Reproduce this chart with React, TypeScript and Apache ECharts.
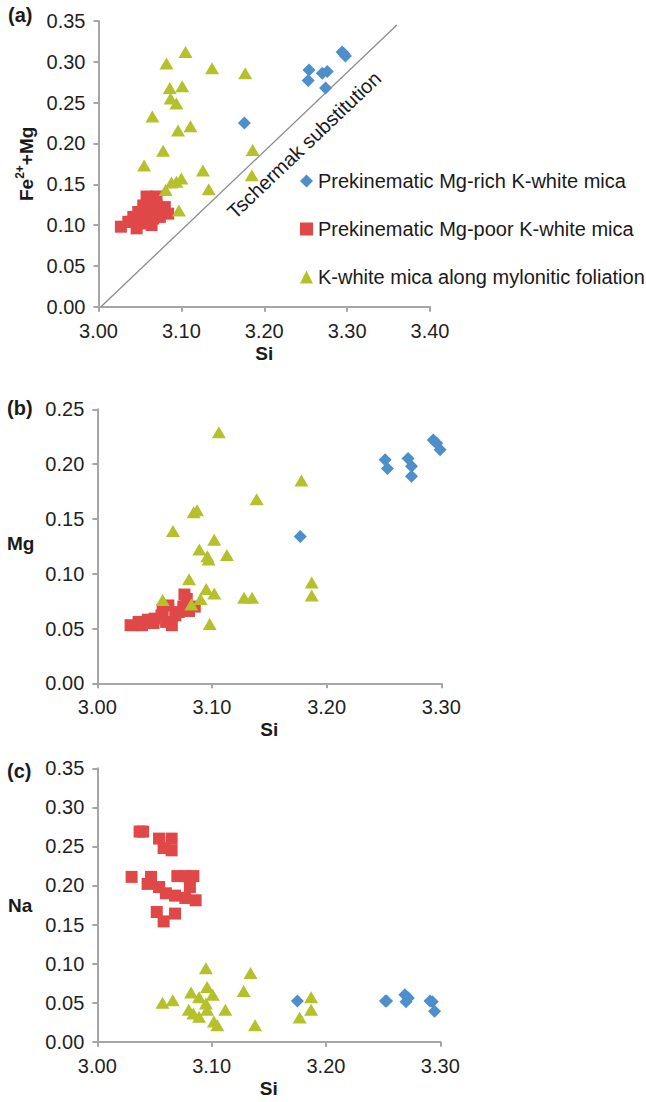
import { useEffect, useRef } from "react";
import * as echarts from "echarts";

const FONT = "'Liberation Sans', Arial, sans-serif";
const BLUE = "#4C8FCB";
const RED = "#E04848";
const GREEN = "#B5C12A";

const seriesNames = [
  "Prekinematic Mg-rich K-white mica",
  "Prekinematic Mg-poor K-white mica",
  "K-white mica along mylonitic foliation",
];

// (a) Si vs Fe2+ + Mg
const richA = [
  [3.254, 0.29], [3.253, 0.277], [3.27, 0.286], [3.276, 0.288], [3.274, 0.268],
  [3.294, 0.312], [3.296, 0.31], [3.298, 0.307], [3.176, 0.225],
];
const poorA = [
  [3.027, 0.098], [3.036, 0.104], [3.042, 0.11], [3.048, 0.116], [3.054, 0.124],
  [3.058, 0.135], [3.07, 0.135], [3.062, 0.116], [3.07, 0.124], [3.08, 0.122],
  [3.084, 0.114], [3.074, 0.11], [3.064, 0.1], [3.052, 0.102], [3.046, 0.096],
  [3.06, 0.128], [3.066, 0.108], [3.076, 0.118], [3.04, 0.104], [3.056, 0.112],
];
const mylA = [
  [3.105, 0.312], [3.082, 0.298], [3.137, 0.292], [3.177, 0.286], [3.086, 0.268],
  [3.101, 0.27], [3.087, 0.255], [3.094, 0.249], [3.065, 0.233], [3.096, 0.216],
  [3.111, 0.221], [3.078, 0.191], [3.186, 0.192], [3.055, 0.173], [3.126, 0.167],
  [3.185, 0.161], [3.1, 0.157], [3.094, 0.153], [3.088, 0.152], [3.081, 0.143],
  [3.133, 0.144], [3.097, 0.118],
];
const tschermak = [[3.003, 0], [3.36, 0.345]];

// (b) Si vs Mg
const richB = [
  [3.251, 0.204], [3.253, 0.196], [3.271, 0.205], [3.274, 0.198], [3.274, 0.189],
  [3.293, 0.222], [3.296, 0.219], [3.299, 0.213], [3.177, 0.134],
];
const poorB = [
  [3.029, 0.053], [3.039, 0.053], [3.044, 0.058], [3.05, 0.059], [3.056, 0.062],
  [3.057, 0.067], [3.062, 0.071], [3.065, 0.053], [3.068, 0.062], [3.071, 0.065],
  [3.076, 0.081], [3.078, 0.077], [3.075, 0.07], [3.085, 0.07], [3.06, 0.056],
  [3.049, 0.055], [3.036, 0.056], [3.08, 0.066],
];
const mylB = [
  [3.106, 0.229], [3.178, 0.185], [3.139, 0.168], [3.084, 0.156], [3.087, 0.158],
  [3.066, 0.139], [3.102, 0.131], [3.089, 0.122], [3.096, 0.116], [3.097, 0.113],
  [3.113, 0.117], [3.08, 0.095], [3.187, 0.092], [3.095, 0.086], [3.102, 0.082],
  [3.187, 0.08], [3.128, 0.078], [3.135, 0.078], [3.09, 0.077], [3.057, 0.076],
  [3.082, 0.072], [3.098, 0.054],
];

// (c) Si vs Na
const richC = [
  [3.252, 0.052], [3.253, 0.052], [3.269, 0.06], [3.272, 0.056], [3.27, 0.051],
  [3.291, 0.052], [3.293, 0.051], [3.295, 0.039], [3.175, 0.052],
];
const poorC = [
  [3.037, 0.269], [3.04, 0.269], [3.054, 0.26], [3.065, 0.26], [3.058, 0.248],
  [3.065, 0.245], [3.03, 0.211], [3.047, 0.211], [3.07, 0.212], [3.077, 0.212],
  [3.084, 0.212], [3.044, 0.202], [3.054, 0.198], [3.06, 0.19], [3.068, 0.187],
  [3.081, 0.198], [3.077, 0.184], [3.086, 0.181], [3.052, 0.166], [3.068, 0.164],
  [3.058, 0.154],
];
const mylC = [
  [3.095, 0.094], [3.134, 0.088], [3.096, 0.07], [3.128, 0.065], [3.082, 0.063],
  [3.089, 0.057], [3.101, 0.06], [3.066, 0.053], [3.057, 0.05], [3.095, 0.049],
  [3.187, 0.057], [3.112, 0.041], [3.08, 0.041], [3.096, 0.041], [3.084, 0.036],
  [3.089, 0.032], [3.102, 0.026], [3.187, 0.041], [3.177, 0.031], [3.105, 0.021],
  [3.138, 0.021],
];

const xMax = [3.4, 3.3, 3.3];
const yMax = [0.35, 0.25, 0.35];
const panels = [
  [richA, poorA, mylA],
  [richB, poorB, mylB],
  [richC, poorC, mylC],
];

const App = () => {
  const chartRef = useRef<HTMLDivElement>(null);

  useEffect(() => {
    document.body.style.margin = "0";
    if (!chartRef.current) return;
    const chart = echarts.init(chartRef.current, null, { renderer: "svg" });

    const axisLine = { lineStyle: { color: "#A6A6A6", width: 2 } };
    const axisTick = { length: 5, lineStyle: { color: "#A6A6A6", width: 2 } };
    const label = {
      fontSize: 20,
      color: "#1f1f1f",
      fontFamily: FONT,
      margin: 13,
      formatter: (v: number) => v.toFixed(2),
    };
    const nameStyle = { fontSize: 19, fontWeight: "bold", color: "#1a1a1a", fontFamily: FONT };

    const grids = [
      { left: 98.5, top: 21, width: 331.5, height: 285.7 },
      { left: 97.3, top: 409.3, width: 344, height: 274 },
      { left: 97.3, top: 768.3, width: 343, height: 273.4 },
    ];

    const xAxis = grids.map((_, i) => ({
      type: "value",
      gridIndex: i,
      min: 3,
      max: xMax[i],
      interval: 0.1,
      axisLine,
      axisTick,
      axisLabel: { ...label, margin: 14 },
      splitLine: { show: false },
      name: "Si",
      nameLocation: "middle",
      nameGap: 37,
      nameTextStyle: nameStyle,
    }));

    const yAxis = grids.map((_, i) => ({
      type: "value",
      gridIndex: i,
      min: 0,
      max: yMax[i],
      interval: 0.05,
      axisLine: { show: true, ...axisLine },
      axisTick: { show: true, ...axisTick },
      axisLabel: label,
      splitLine: { show: false },
      ...(i === 0
        ? {
            name: "{b|Fe}{s|2+}{b|+Mg}",
            nameLocation: "middle",
            nameRotate: 90,
            nameGap: 63,
            nameTextStyle: {
              rich: {
                b: { ...nameStyle, lineHeight: 22, verticalAlign: "bottom" },
                s: { ...nameStyle, fontSize: 12, lineHeight: 22, verticalAlign: "top" },
              },
            },
          }
        : {}),
    }));

    const symbols = ["diamond", "rect", "triangle"];
    const sizes: any[] = [13, 12, [14, 12]];
    const colors = [BLUE, RED, GREEN];

    const series: any[] = [];
    panels.forEach((sets, p) => {
      if (p === 0) {
        series.push({
          type: "line",
          xAxisIndex: 0,
          yAxisIndex: 0,
          data: tschermak,
          symbol: "none",
          silent: true,
          lineStyle: { color: "#8C8C8C", width: 1.3 },
          z: 1,
        });
      }
      sets.forEach((data, k) => {
        series.push({
          type: "scatter",
          name: seriesNames[k],
          xAxisIndex: p,
          yAxisIndex: p,
          data,
          symbol: symbols[k],
          symbolSize: sizes[k],
          itemStyle: { color: colors[k], opacity: 1 },
          z: 2 + k,
        });
      });
    });

    const gText = (text: string, x: number, y: number, extra: any = {}) => ({
      type: "text",
      x,
      y,
      style: {
        text,
        fontSize: 19,
        fontWeight: "bold",
        fontFamily: FONT,
        fill: "#1a1a1a",
        align: "left",
        verticalAlign: "middle",
        ...extra,
      },
    });

    chart.setOption({
      animation: false,
      grid: grids,
      xAxis,
      yAxis,
      legend: {
        orient: "vertical",
        left: 300,
        top: 171,
        padding: 0,
        itemGap: 28,
        itemWidth: 13,
        itemHeight: 13,
        textStyle: { fontSize: 20, color: "#1a1a1a", fontFamily: FONT },
        data: [
          { name: seriesNames[0], icon: "diamond" },
          { name: seriesNames[1], icon: "rect" },
          { name: seriesNames[2], icon: "triangle" },
        ],
        selectedMode: false,
      },
      graphic: [
        gText("(a)", 8, 15, { fontSize: 20 }),
        gText("(b)", 7, 408, { fontSize: 20 }),
        gText("(c)", 7, 771, { fontSize: 20 }),
        gText("Mg", 7, 543),
        gText("Na", 8, 905),
        {
          type: "text",
          x: 304,
          y: 145,
          rotation: (43.5 * Math.PI) / 180,
          style: {
            text: "Tschermak substitution",
            fontSize: 20,
            fontFamily: FONT,
            fill: "#1a1a1a",
            align: "center",
            verticalAlign: "middle",
          },
        },
      ],
      series,
    });

    return () => {
      chart.dispose();
    };
  }, []);

  return (
    <div
      ref={chartRef}
      style={{ position: "absolute", left: 0, top: 0, width: 646, height: 1102, background: "#fff" }}
    />
  );
};

export default App;
